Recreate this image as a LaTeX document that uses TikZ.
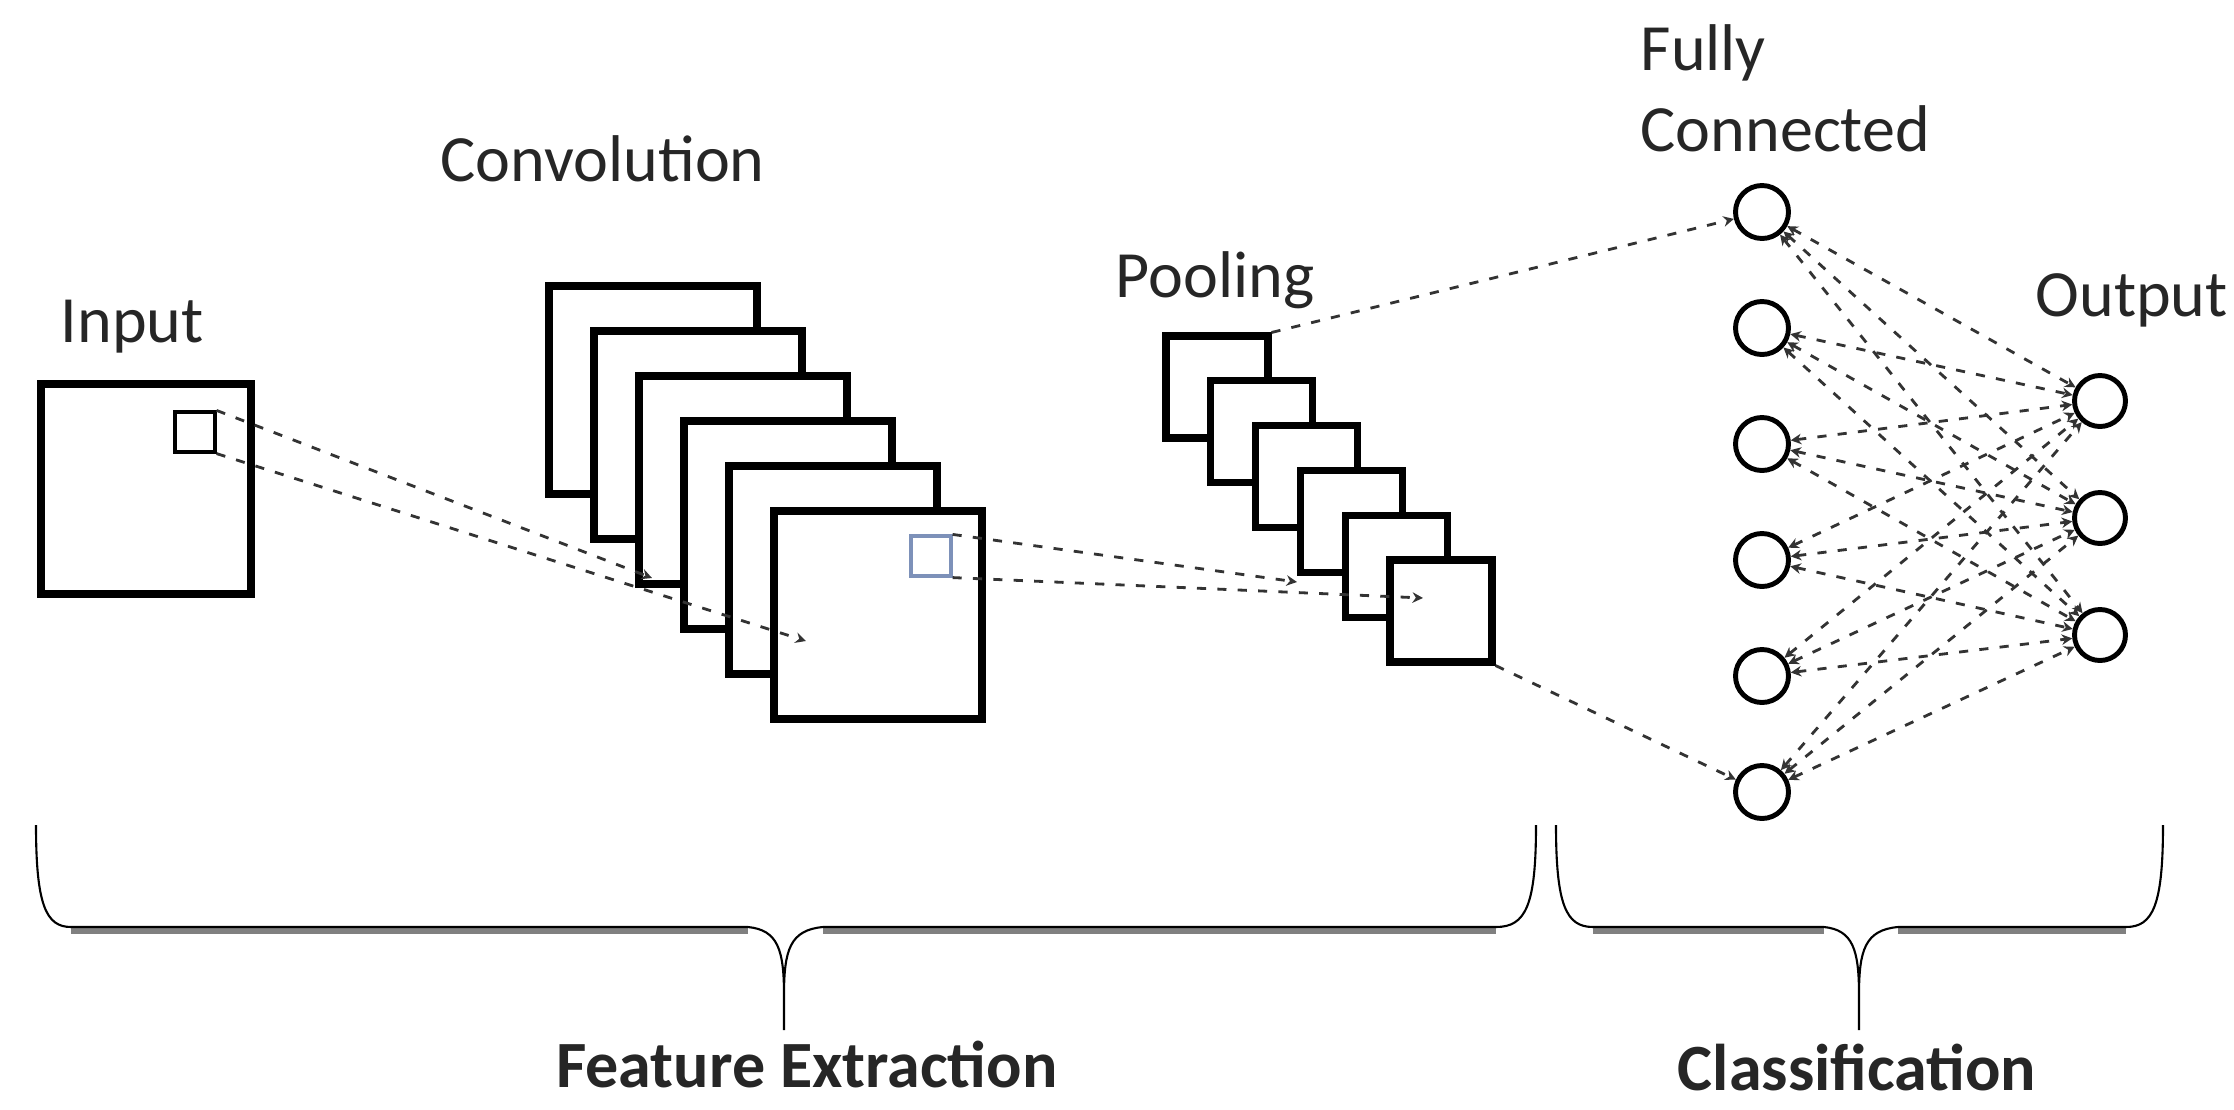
\documentclass[tikz,border=0pt]{standalone}
\usepackage{fontspec}
\setmainfont{Carlito}
\usetikzlibrary{arrows.meta}
\definecolor{winblue}{RGB}{125,145,185}

\begin{document}
\begin{tikzpicture}[x=0.1mm,y=-0.1mm,
    >={Stealth[length=3pt,width=3pt]},
    map/.style={draw,fill=white,line width=2pt,minimum size=#1,inner sep=0pt},
    win/.style={draw,line width=0.9pt,minimum size=4mm,inner sep=0pt},
    unit/.style={circle,draw,fill=white,line width=1.4pt,minimum size=5.3mm,inner sep=0pt},
    link/.style={draw=black!80,line width=0.8pt,dash pattern=on 2.6pt off 3.2pt},
    lbl/.style={anchor=base west,inner sep=0pt,text=black!85,font=\fontsize{18.8}{23}\selectfont},
    brace/.style={draw,line width=0.6pt}]
  \useasboundingbox (0,0) rectangle (2234,1110);

  % input image
  \node[map=21mm] (inp) at (146,489) {};
  \node[win] (iw) at (195,432) {};

  % convolution and pooling stacks
  \foreach \i in {1,...,6}
    \node[map=20.8mm] (c\i) at ({653+45*(\i-1)},{390+45*(\i-1)}) {};
  \node[win,draw=winblue] (cw) at (931,556) {};
  \foreach \i in {1,...,6}
    \node[map=10.2mm] (p\i) at ({1217+44.8*(\i-1)},{387+44.8*(\i-1)}) {};

  % fully connected layer and output
  \foreach \i in {1,...,6}
    \node[unit] (fc\i) at (1762,{212+116*(\i-1)}) {};
  \foreach \j in {1,2,3}
    \node[unit,minimum size=5.1mm] (out\j) at (2100,{401+117*(\j-1)}) {};

  \coordinate (ce1) at (652,578);
  \coordinate (ce2) at (806,641);
  \coordinate (pe1) at (1297,582);
  \coordinate (pe2) at (1423,598);

  \draw[link,->] (iw.north east) -- (ce1);
  \draw[link,->] (iw.south east) -- (ce2);
  \draw[link,->] (cw.north east) -- (pe1);
  \draw[link,->] (cw.south east) -- (pe2);
  \draw[link,->] (p1.north east) -- (fc1);
  \draw[link,->] (p6.south east) -- (fc6);
  \foreach \i in {1,...,6}
    \foreach \j in {1,2,3}
      \draw[link,<->] (fc\i) -- (out\j);

  % labels
  \node[lbl] (tin) at (60,342) {Input};
  \node[lbl] (tconv) at (440,181) {Convolution};
  \node[lbl] (tpool) at (1115,297) {Pooling};
  \node[lbl,align=left] (tfc) at (1640,151) {Fully\\Connected};
  \node[lbl] (tout) at (2035,316) {Output};

  % braces
  \draw[gray,line width=2pt] (71,930) -- (748,930) (823,930) -- (1496,930);
  \draw[gray,line width=2pt] (1593,930) -- (1824,930) (1898,930) -- (2126,930);
  \draw[brace] (36,825) .. controls (36,905) and (46,927) .. (71,927) -- (748,927)
    .. controls (778,930) and (784,950) .. (784,995) -- (784,1030) -- (784,995)
    .. controls (784,950) and (790,930) .. (823,927) -- (1496,927)
    .. controls (1526,927) and (1536,905) .. (1536,825);
  \draw[brace] (1556,825) .. controls (1556,905) and (1566,927) .. (1593,927) -- (1824,927)
    .. controls (1853,930) and (1859,950) .. (1859,995) -- (1859,1030) -- (1859,995)
    .. controls (1859,950) and (1865,930) .. (1898,927) -- (2126,927)
    .. controls (2153,927) and (2163,905) .. (2163,825);
  \node[lbl,anchor=base,font=\fontsize{18.8}{23}\selectfont\bfseries] (tfe) at (807,1087) {Feature Extraction};
  \node[lbl,anchor=base,font=\fontsize{18.8}{23}\selectfont\bfseries] (tcls) at (1857,1090) {Classification};
\end{tikzpicture}
\end{document}
